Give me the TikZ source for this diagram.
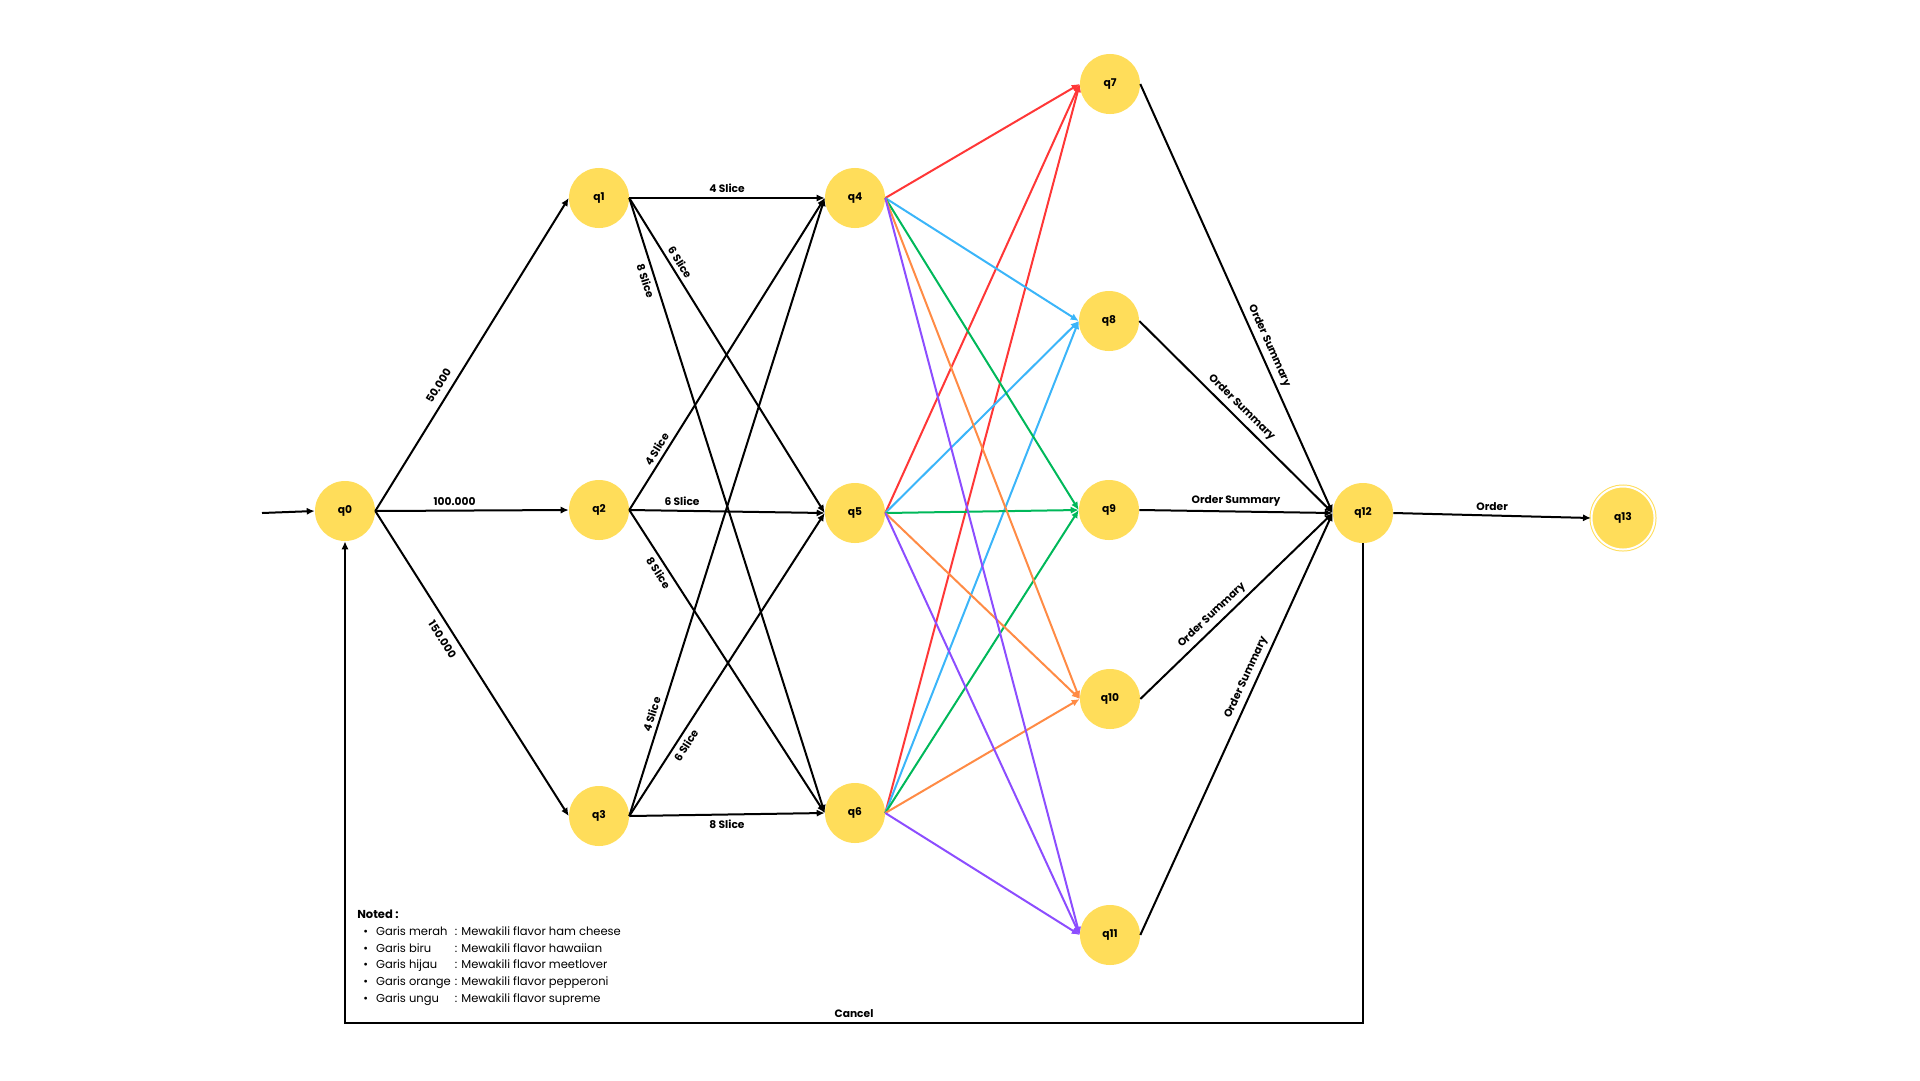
\documentclass[tikz,border=0pt]{standalone}
\usepackage{fontspec}
\setmainfont{Poppins}
\usetikzlibrary{arrows.meta}
\definecolor{stateyellow}{HTML}{FFDD5A}
\definecolor{lred}{HTML}{FF3737}
\definecolor{lblue}{HTML}{3BB5F9}
\definecolor{lgreen}{HTML}{00B85A}
\definecolor{lorange}{HTML}{FF8B45}
\definecolor{lpurple}{HTML}{8C4DFF}
\begin{document}
\begin{tikzpicture}[x=0.025cm,y=-0.025cm,
		>={Latex[length=0.2cm,width=0.18cm]},
		statenode/.style={circle,fill=stateyellow,minimum size=1.5cm,inner sep=0pt,font=\bfseries\fontsize{7.6}{9}\selectfont},
		finalnode/.style={draw=stateyellow,line width=0.025cm,double=white,double distance=0.05cm,minimum size=1.575cm},
		edgelabel/.style={font=\bfseries\fontsize{7.6}{9}\selectfont,inner sep=0.1cm},
		trans/.style={->,line width=0.05cm}]
		\useasboundingbox (0,0) rectangle (1920,1080);
		% states
		\node[statenode] (q0) at (345,511) {q0};
		\node[statenode] (q1) at (599,198) {q1};
		\node[statenode] (q2) at (599,510) {q2};
		\node[statenode] (q3) at (599,816) {q3};
		\node[statenode] (q4) at (855,198) {q4};
		\node[statenode] (q5) at (855,513) {q5};
		\node[statenode] (q6) at (855,813) {q6};
		\node[statenode] (q7) at (1110,84) {q7};
		\node[statenode] (q8) at (1109,321) {q8};
		\node[statenode] (q9) at (1109,510) {q9};
		\node[statenode] (q10) at (1110,699) {q10};
		\node[statenode] (q11) at (1110,935) {q11};
		\node[statenode] (q12) at (1363,513) {q12};
		\node[statenode,finalnode] (q13) at (1623,518) {q13};
		\coordinate (start) at (262,513);
		\coordinate (cancelcorner) at (1363,1023);
		% price
		\draw[trans] (start) -- (q0.west);
		\draw[trans] (q0.east) -- (q1.west) node[edgelabel,sloped,pos=0.38,above,inner sep=0.175cm] {50.000};
		\draw[trans] (q0.east) -- (q2.west) node[edgelabel,pos=0.41,above] {100.000};
		\draw[trans] (q0.east) -- (q3.west) node[edgelabel,sloped,pos=0.4,below,inner sep=0.175cm] {150.000};
		% slices
		\draw[trans] (q1.east) -- (q4.west) node[edgelabel,midway,above] {4 Slice};
		\draw[trans] (q1.east) -- (q5.west) node[edgelabel,sloped,pos=0.22,above] {6 Slice};
		\draw[trans] (q1.east) -- (q6.west) node[edgelabel,sloped,pos=0.13,below] {8 Slice};
		\draw[trans] (q2.east) -- (q4.west) node[edgelabel,sloped,pos=0.18,above] {4 Slice};
		\draw[trans] (q2.east) -- (q5.west) node[edgelabel,pos=0.27,above] {6 Slice};
		\draw[trans] (q2.east) -- (q6.west) node[edgelabel,sloped,pos=0.19,below] {8 Slice};
		\draw[trans] (q3.east) -- (q4.west) node[edgelabel,sloped,pos=0.16,above] {4 Slice};
		\draw[trans] (q3.east) -- (q5.west) node[edgelabel,sloped,pos=0.25,below] {6 Slice};
		\draw[trans] (q3.east) -- (q6.west) node[edgelabel,midway,below] {8 Slice};
		% flavors
		\draw[trans,draw=lred] (q4.east) -- (q7.west);
		\draw[trans,draw=lred] (q5.east) -- (q7.west);
		\draw[trans,draw=lred] (q6.east) -- (q7.west);
		\draw[trans,draw=lblue] (q4.east) -- (q8.west);
		\draw[trans,draw=lblue] (q5.east) -- (q8.west);
		\draw[trans,draw=lblue] (q6.east) -- (q8.west);
		\draw[trans,draw=lgreen] (q4.east) -- (q9.west);
		\draw[trans,draw=lgreen] (q5.east) -- (q9.west);
		\draw[trans,draw=lgreen] (q6.east) -- (q9.west);
		\draw[trans,draw=lorange] (q4.east) -- (q10.west);
		\draw[trans,draw=lorange] (q5.east) -- (q10.west);
		\draw[trans,draw=lorange] (q6.east) -- (q10.west);
		\draw[trans,draw=lpurple] (q4.east) -- (q11.west);
		\draw[trans,draw=lpurple] (q5.east) -- (q11.west);
		\draw[trans,draw=lpurple] (q6.east) -- (q11.west);
		% summary and order
		\draw[trans] (q7.east) -- (q12.west) node[edgelabel,sloped,pos=0.62,above] {Order Summary};
		\draw[trans] (q8.east) -- (q12.west) node[edgelabel,sloped,pos=0.49,above] {Order Summary};
		\draw[trans] (q9.east) -- (q12.west) node[edgelabel,pos=0.5,above] {Order Summary};
		\draw[trans] (q10.east) -- (q12.west) node[edgelabel,sloped,pos=0.41,above] {Order Summary};
		\draw[trans] (q11.east) -- (q12.west) node[edgelabel,sloped,pos=0.6,above] {Order Summary};
		\draw[trans] (q12.east) -- (q13.west) node[edgelabel,midway,above] {Order};
		\draw[trans] (q12.south) -- (cancelcorner) -| (q0.south) node[edgelabel,pos=0.25,above] {Cancel};
		% notes
		\node[anchor=north west,inner sep=0pt,font=\fontsize{8.2}{12.05}\selectfont] (noted) at (357,906) {%
			\begin{tabular}{@{\hspace{0.15cm}}l@{\hspace{0.2cm}}l@{\hspace{0.1cm}}l@{}}
				\multicolumn{3}{@{}l@{}}{\bfseries Noted :}\\
				\textbullet & Garis merah & : Mewakili flavor ham cheese\\
				\textbullet & Garis biru & : Mewakili flavor hawaiian\\
				\textbullet & Garis hijau & : Mewakili flavor meetlover\\
				\textbullet & Garis orange & : Mewakili flavor pepperoni\\
				\textbullet & Garis ungu & : Mewakili flavor supreme\\
			\end{tabular}};
	\end{tikzpicture}
\end{document}
